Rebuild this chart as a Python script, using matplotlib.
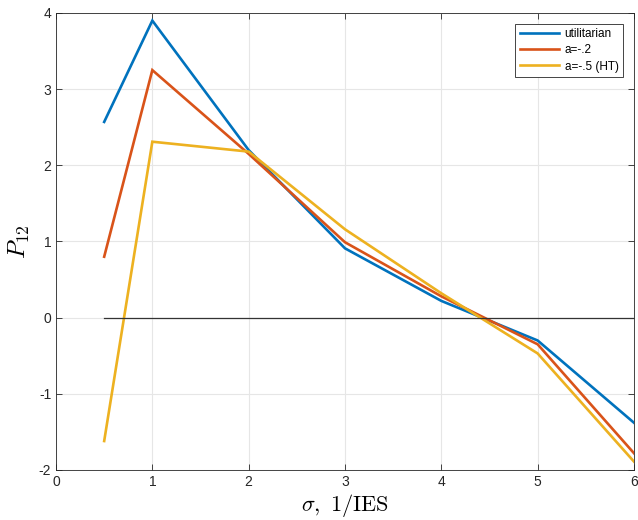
import matplotlib
matplotlib.use("Agg")
import matplotlib.pyplot as plt

sigma = [0.5, 1, 2, 3, 4, 5, 6]
utilitarian = [2.57, 3.90, 2.20, 0.91, 0.22, -0.30, -1.38]
a_02 = [0.80, 3.25, 2.15, 0.99, 0.28, -0.35, -1.78]
a_05 = [-1.62, 2.31, 2.18, 1.16, 0.32, -0.47, -1.89]
zero_x = [0.5, 6]
zero_y = [0, 0]
labels = ["utilitarian", "a=-.2", "a=-.5 (HT)"]
colors = ["#0072BD", "#D95319", "#EDB120"]

plt.rcParams['font.family'] = ['Liberation Sans', 'DejaVu Sans']
plt.rcParams['mathtext.fontset'] = 'cm'
plt.rcParams['axes.unicode_minus'] = False

fig = plt.figure(figsize=(6.38, 5.2), dpi=100)
ax = fig.add_axes([0.0878, 0.0962, 0.9059, 0.8788])

for ys, lab, c in zip([utilitarian, a_02, a_05], labels, colors):
    ax.plot(sigma, ys, color=c, lw=1.9, label=lab, solid_joinstyle='miter')
ax.plot(zero_x, zero_y, color='#333333', lw=0.9)

ax.set_xlim(0, 6)
ax.set_ylim(-2, 4)
ax.set_xticks(range(0, 7))
ax.set_yticks(range(-2, 5))
ax.grid(True, color='#e6e6e6', lw=0.8)
ax.set_axisbelow(True)
ax.tick_params(direction='in', length=4, width=0.6, labelsize=10, colors='#262626', top=True, right=True)
for s in ax.spines.values():
    s.set_color('#262626')
    s.set_linewidth(0.6)

ax.set_xlabel(r'$\sigma,\ 1/\mathrm{IES}$', fontsize=16, labelpad=2)
ax.set_ylabel(r'$P_{12}$', fontsize=18, labelpad=5)

leg = ax.legend(loc='upper right', fontsize=8.5, fancybox=False, framealpha=1,
                edgecolor='#262626', handlelength=3.3, borderaxespad=0.9,
                labelspacing=0.35, borderpad=0.4, handletextpad=0.5)
leg.get_frame().set_linewidth(0.6)

fig.savefig("out.png", dpi=100)
